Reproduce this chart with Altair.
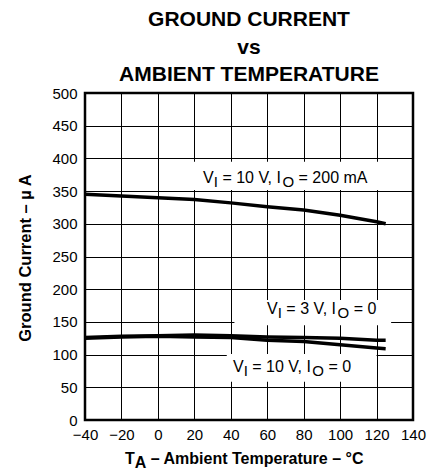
import altair as alt
import pandas as pd

# ---- data ----
temps = [-40, -20, 0, 20, 40, 60, 80, 100, 120, 125]
i_10v_200ma = [345, 342.5, 340, 337, 332, 326, 321, 313, 303, 300]
i_3v_0 = [126, 128, 129, 130, 129, 127, 126, 125, 122, 122]
i_10v_0 = [125, 127, 128, 127, 126, 122, 120, 115, 110, 109]
series_names = ["VI = 10 V, IO = 200 mA", "VI = 3 V, IO = 0", "VI = 10 V, IO = 0"]

x_ticks = list(range(-40, 141, 20))
y_ticks = list(range(0, 501, 50))

# label anchor points (data units) and white backing boxes
label_x = [24.8, 59.9, 41.2]
label_y = [370, 170, 81]
box_x1 = [16.5, 42, 37.8]
box_x2 = [129, 128, 120]
box_y1 = [351.7, 145, 58.4]
box_y2 = [395, 183.5, 101]

FONT = "Liberation Sans"

rows = []
for name, vals in zip(series_names, [i_10v_200ma, i_3v_0, i_10v_0]):
    for t, v in zip(temps, vals):
        rows.append({"T": t, "I": v, "series": name})
df = pd.DataFrame(rows)

xscale = alt.Scale(domain=[-40, 140], nice=False, zero=False)
yscale = alt.Scale(domain=[0, 500], nice=False)

x_axis = alt.Axis(values=x_ticks, title=None, grid=True, ticks=False, domain=False,
                  labelOverlap=False, labelBound=False, labelFlush=False,
                  labelPadding=7, labelFontSize=15, labelFont=FONT, labelColor="black",
                  gridColor="black", gridOpacity=1, gridWidth=1)
y_axis = alt.Axis(values=y_ticks, title="Ground Current – µ A", grid=True, ticks=False,
                  domain=False, labelOverlap=False, labelBound=False, labelFlush=False,
                  labelPadding=8, labelFontSize=15, labelFont=FONT,
                  labelColor="black", gridColor="black", gridOpacity=1, gridWidth=1,
                  titleFont=FONT, titleFontSize=16.5, titleFontWeight="bold",
                  titleColor="black", titleX=-60, titleY=164.5, titleAngle=270,
                  titleBaseline="middle", titleAlign="center")

boxes_df = pd.DataFrame({"x1": box_x1, "x2": box_x2, "y1": box_y1, "y2": box_y2})
boxes = alt.Chart(boxes_df).mark_rect(color="white").encode(
    x=alt.X("x1:Q", scale=xscale, axis=x_axis), x2="x2:Q",
    y=alt.Y("y1:Q", scale=yscale, axis=y_axis), y2="y2:Q",
)

lines = alt.Chart(df).mark_line(color="black", strokeWidth=3.5).encode(
    x=alt.X("T:Q", scale=xscale, axis=x_axis),
    y=alt.Y("I:Q", scale=yscale, axis=y_axis),
    detail="series:N",
)

# label segments: (text, size, dx, dy) -- subscripts lowered by a few pixels
segs = [
    [("V", 16, 0, 0), ("I", 15, 10.7, 4), ("= 10 V, I", 16, 19.3, 0), ("O", 15, 79.3, 4), ("= 200 mA", 16, 95.5, 0)],
    [("V", 16, 0, 0), ("I", 15, 10.7, 4), ("= 3 V, I", 16, 19.3, 0), ("O", 15, 70.5, 4), ("= 0", 16, 86.7, 0)],
    [("V", 16, 0, 0), ("I", 15, 10.7, 4), ("= 10 V, I", 16, 19.3, 0), ("O", 15, 79.3, 4), ("= 0", 16, 95.5, 0)],
]
label_layers = []
for lx, ly, parts in zip(label_x, label_y, segs):
    ldf = pd.DataFrame({"lx": [lx], "ly": [ly]})
    for txt, size, dx, dy in parts:
        label_layers.append(
            alt.Chart(ldf).mark_text(text=txt, font=FONT, fontSize=size, align="left",
                                     baseline="middle", dx=dx, dy=dy, color="black").encode(
                x=alt.X("lx:Q", scale=xscale, axis=x_axis),
                y=alt.Y("ly:Q", scale=yscale, axis=y_axis),
            )
        )

# x axis title with subscript, built from text pieces below the plot
xt_df = pd.DataFrame({"k": [0]})
xtitle_parts = [("T", 16, 0, 0), ("A", 16, 9.8, 4), ("– Ambient Temperature – °C", 16, 25.8, 0)]
xtitle_layers = []
for txt, size, dx, dy in xtitle_parts:
    xtitle_layers.append(
        alt.Chart(xt_df).mark_text(text=txt, font=FONT, fontSize=size, fontWeight="bold",
                                   align="left", baseline="middle", dx=dx, dy=dy,
                                   color="black").encode(
            x=alt.value(40), y=alt.value(366)
        )
    )

chart = alt.layer(boxes, lines, *label_layers, *xtitle_layers).properties(
    width=328, height=327,
    title=alt.TitleParams(
        text=["GROUND CURRENT", "vs", "AMBIENT TEMPERATURE"],
        font=FONT, fontSize=21, fontWeight="bold", color="black",
        lineHeight=27.5, anchor="middle", offset=-16, baseline="alphabetic",
    ),
    autosize=alt.AutoSizeParams(type="none"),
    padding={"left": 77, "top": 85, "right": 22, "bottom": 51},
).configure_view(stroke="black", strokeWidth=2.5)

chart.save("out.html", embed_options={"renderer": "svg", "actions": False})
